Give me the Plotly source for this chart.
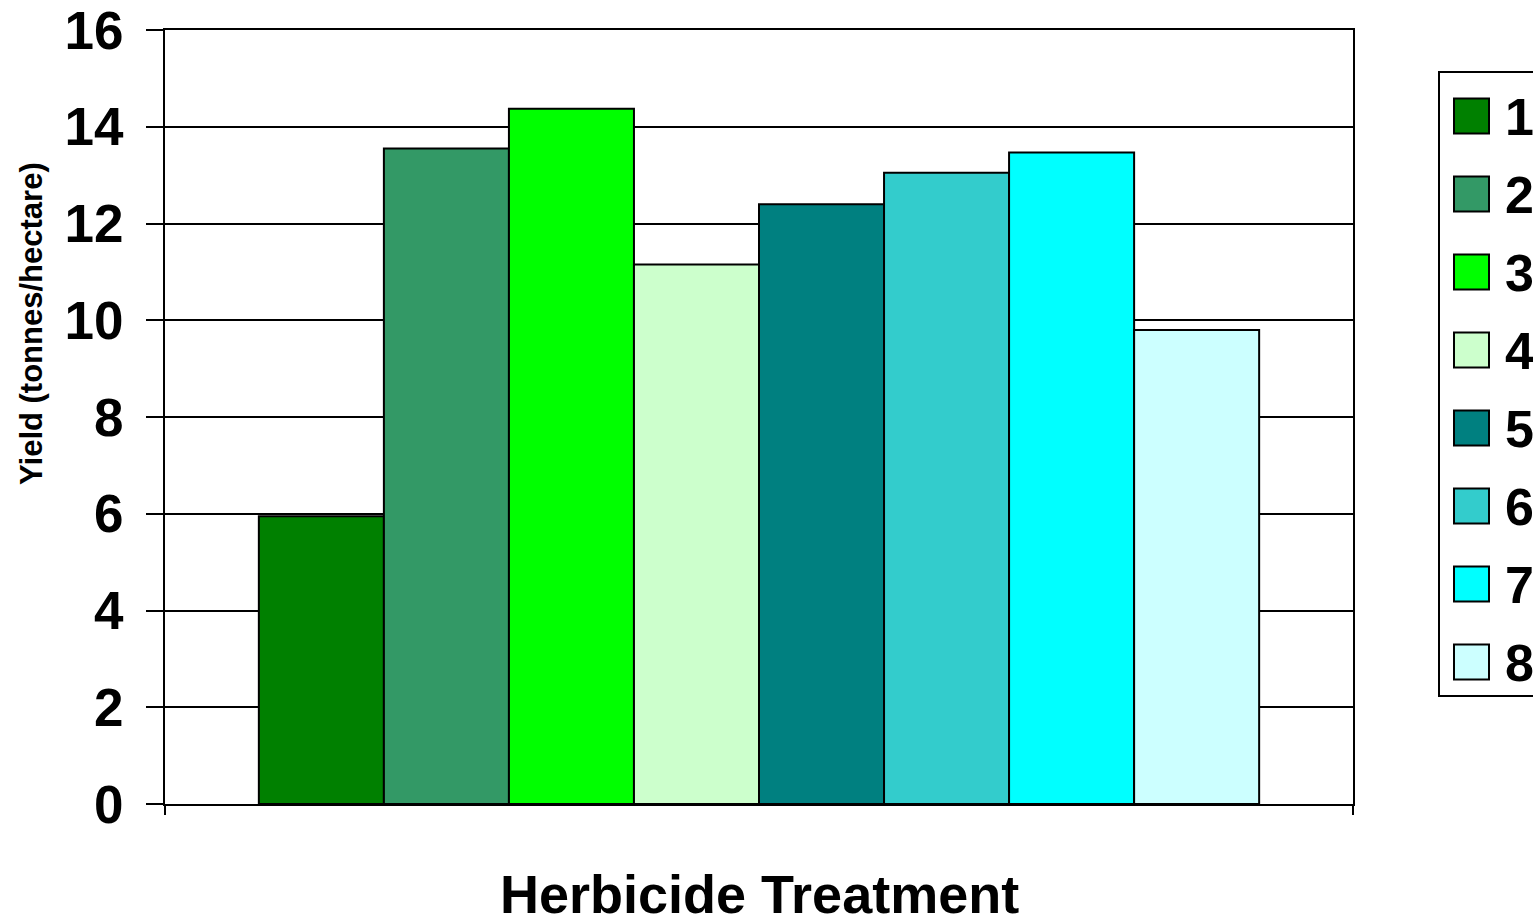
import plotly.graph_objects as go

# ---- data ----
treatments = ["1", "2", "3", "4", "5", "6", "7", "8"]
yields = [5.95, 13.55, 14.37, 11.15, 12.4, 13.05, 13.47, 9.8]
colors = ["#008000", "#339966", "#00FF00", "#CCFFCC",
          "#008080", "#33CCCC", "#00FFFF", "#CCFFFF"]
category = ["Herbicide Treatment"]
y_ticks = [0, 2, 4, 6, 8, 10, 12, 14, 16]

W, H = 1533, 924
L, R, T, B = 165, 180, 30, 120
PW, PH = W - L - R, H - T - B

FONT = "Liberation Sans, Arial, sans-serif"


def px_x(x):
    return (x - L) / PW


def px_y(y):
    return (H - B - y) / PH


fig = go.Figure()
for name, val, col in zip(treatments, yields, colors):
    fig.add_trace(go.Bar(
        x=category, y=[val], name=name,
        marker=dict(color=col, line=dict(color="black", width=2)),
        showlegend=False,
    ))

shapes = []
annotations = []

# legend box
shapes.append(dict(type="rect", xref="paper", yref="paper",
                   x0=px_x(1439), x1=px_x(1600), y0=px_y(696), y1=px_y(72),
                   line=dict(color="black", width=2), fillcolor="white", layer="above"))
for i, (name, col) in enumerate(zip(treatments, colors)):
    cy = 116 + 78 * i
    shapes.append(dict(type="rect", xref="paper", yref="paper",
                       x0=px_x(1454), x1=px_x(1489),
                       y0=px_y(cy + 17.5), y1=px_y(cy - 17.5),
                       fillcolor=col, line=dict(color="black", width=2), layer="above"))
    annotations.append(dict(text=name, xref="paper", yref="paper",
                            x=px_x(1504), y=px_y(cy + 1), xanchor="left", yanchor="middle",
                            showarrow=False, borderpad=0,
                            font=dict(family=FONT, size=52, color="black", weight="bold")))

# axis titles
annotations.append(dict(text="Herbicide Treatment", xref="paper", yref="paper",
                        x=0.5, y=px_y(894), xanchor="center", yanchor="middle",
                        showarrow=False, borderpad=0,
                        font=dict(family=FONT, size=54, color="black", weight="bold")))
annotations.append(dict(text="Yield (tonnes/hectare)", xref="paper", yref="paper",
                        x=px_x(31), y=px_y(324), xanchor="center", yanchor="middle",
                        textangle=-90, showarrow=False,
                        font=dict(family=FONT, size=31, color="black", weight="bold")))

fig.update_layout(
    width=W, height=H,
    margin=dict(l=L, r=R, t=T, b=B, pad=0, autoexpand=False),
    paper_bgcolor="white", plot_bgcolor="white",
    barmode="group", bargap=0.158, bargroupgap=0,
    shapes=shapes, annotations=annotations,
    showlegend=False,
)
fig.update_xaxes(
    range=[-0.5, 0.5], showticklabels=False, automargin=False,
    ticks="outside", tickson="boundaries", ticklen=9, tickwidth=2, tickcolor="black",
    showline=True, linecolor="black", linewidth=2, mirror=True,
    showgrid=False, zeroline=False,
)
fig.update_yaxes(
    range=[0, 16], tickvals=y_ticks, automargin=False,
    ticks="outside", ticklen=17, tickwidth=1.6, tickcolor="black",
    ticklabelstandoff=12,
    tickfont=dict(family=FONT, size=53, color="black", weight="bold"),
    showline=True, linecolor="black", linewidth=2, mirror=True,
    showgrid=True, gridcolor="black", gridwidth=1.5, zeroline=False,
)

fig.write_html("out.html", config={"displayModeBar": False},
               post_script="document.body.style.margin='0';document.body.style.overflow='hidden';")
